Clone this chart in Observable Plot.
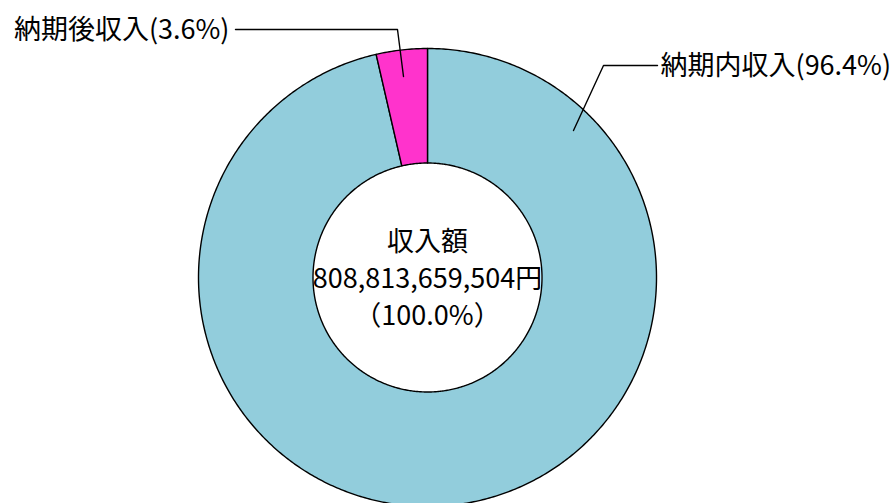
<!DOCTYPE html>
<html><head><meta charset="utf-8">
<script src="https://cdn.jsdelivr.net/npm/d3@7"></script>
<script src="https://cdn.jsdelivr.net/npm/@observablehq/plot@0.6"></script>
<style>body{margin:0;background:#fff}svg{display:block}</style>
</head><body><div id="chart"></div>
<script>
const categories = ["納期内収入", "納期後収入"];
const shares = [96.4, 3.6];
const colors = ["#92CDDC", "#FF33CC"];
const labels = ["納期内収入(96.4%)", "納期後収入(3.6%)"];
const centerTitle = "収入額";
const totalLabel = "808,813,659,504円";
const totalShare = "（100.0%）";

const W = 892, H = 503, cx = 427, cy = 277, R = 229;
const inner = 0.5;
const pie = d3.pie().sort(null).value(d => d.share);
const slices = pie(categories.map((c, i) => ({c, share: shares[i], color: colors[i]})));
const pts = [];
for (const s of slices) {
  const n = Math.max(4, Math.ceil((s.endAngle - s.startAngle) / 0.01));
  for (let k = 0; k <= n; k++) {
    const a = s.startAngle + (s.endAngle - s.startAngle) * k / n;
    pts.push({c: s.data.c, x: Math.sin(a), y: Math.cos(a), color: s.data.color});
  }
  for (let k = n; k >= 0; k--) {
    const a = s.startAngle + (s.endAngle - s.startAngle) * k / n;
    pts.push({c: s.data.c, x: inner * Math.sin(a), y: inner * Math.cos(a), color: s.data.color});
  }
}
const u = px => px / R;
// leader lines (layout in chart units)
const leaders = [
  {c: "納期後収入", pts: [[u(403-cx), u(cy-76)], [u(397-cx), u(cy-29)], [u(235-cx), u(cy-29)]]},
  {c: "納期内収入", pts: [[u(573-cx), u(cy-130)], [u(603-cx), u(cy-65)], [u(657-cx), u(cy-65)]]}
];
const leaderData = leaders.flatMap(l => l.pts.map(([x, y]) => ({c: l.c, x, y})));
const leftLabel = [{text: labels[1], x: u(229-cx), y: u(cy-30)}];
const rightLabel = [{text: labels[0], x: u(660-cx), y: u(cy-66)}];
const centerData = [
  {text: centerTitle, y: u(cy-242)},
  {text: totalLabel, y: u(cy-279)},
  {text: totalShare, y: u(cy-316)}
];
const font = "'Noto Sans CJK JP', 'Noto Sans', sans-serif";
const chart = Plot.plot({
  width: W, height: H,
  margin: 0,
  x: {domain: [u(-cx), u(W - cx)], range: [0, W], axis: null},
  y: {domain: [u(cy - H), u(cy)], range: [H, 0], axis: null},
  style: {fontFamily: font, background: "#fff"},
  marks: [
    Plot.line(pts, {x: "x", y: "y", z: "c", fill: "color", stroke: "#000", strokeWidth: 1.4, curve: "linear-closed"}),
    Plot.line(leaderData, {x: "x", y: "y", z: "c", stroke: "#000", strokeWidth: 1.4}),
    Plot.text(leftLabel, {x: "x", y: "y", text: "text", textAnchor: "end", fontSize: 27, fill: "#000"}),
    Plot.text(rightLabel, {x: "x", y: "y", text: "text", textAnchor: "start", fontSize: 27, fill: "#000"}),
    Plot.text(centerData, {x: () => 0, y: "y", text: "text", fontSize: 27, fill: "#000"})
  ]
});
document.getElementById("chart").append(chart);
</script></body></html>
